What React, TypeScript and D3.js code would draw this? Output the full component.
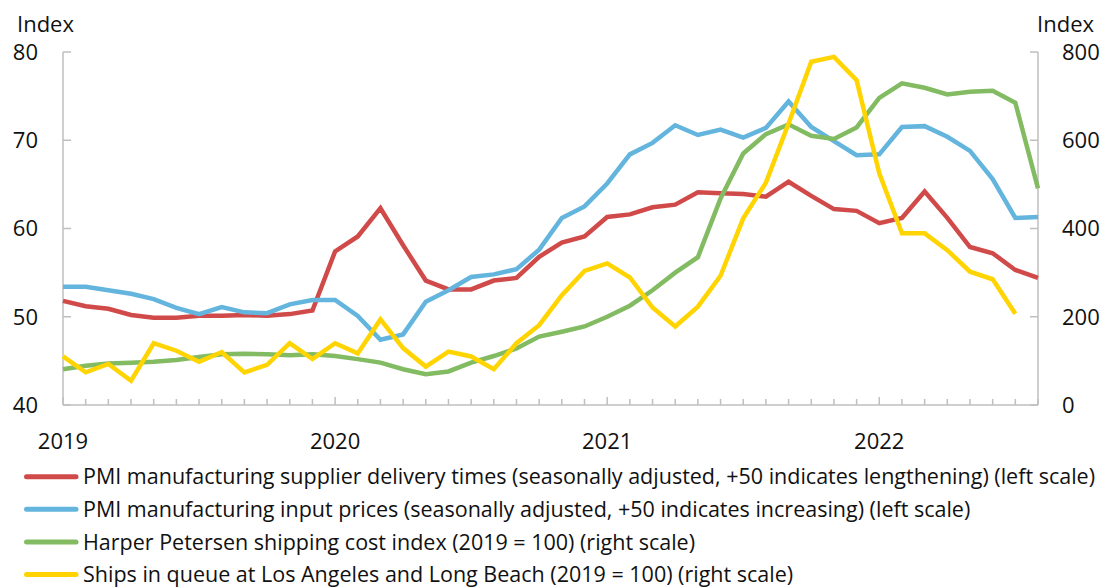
import React from "react";
import * as d3 from "d3";

const months: string[] = Array.from({ length: 44 }, (_, i) => `${2019 + Math.floor(i / 12)}-${String((i % 12) + 1).padStart(2, "0")}`);

const deliveryTimes: number[] = [51.8, 51.2, 50.9, 50.2, 49.9, 49.9, 50.1, 50.1, 50.2, 50.1, 50.3, 50.7,
  57.4, 59.1, 62.3, 58.1, 54.1, 53.1, 53.1, 54.1, 54.4, 56.8, 58.4, 59.1,
  61.3, 61.6, 62.4, 62.7, 64.1, 64.0, 63.9, 63.6, 65.3, 63.7, 62.2, 62.0,
  60.6, 61.2, 64.2, 61.2, 57.9, 57.2, 55.3, 54.4];

const inputPrices: number[] = [53.4, 53.4, 53.0, 52.6, 52.0, 51.0, 50.3, 51.1, 50.5, 50.4, 51.4, 51.9,
  51.9, 50.1, 47.4, 48.0, 51.7, 53.0, 54.5, 54.8, 55.4, 57.6, 61.2, 62.5,
  65.1, 68.4, 69.7, 71.7, 70.6, 71.2, 70.3, 71.4, 74.4, 71.5, 69.9, 68.3,
  68.4, 71.5, 71.6, 70.4, 68.8, 65.6, 61.2, 61.3];

const harperPetersen: number[] = [81, 89, 94, 96, 98, 102, 109, 115, 116, 115, 113, 115,
  111, 104, 96, 81, 70, 76, 96, 111, 128, 155, 166, 178,
  200, 225, 260, 300, 335, 468, 570, 614, 636, 610, 603, 629,
  696, 729, 719, 704, 710, 712, 685, 491];

const shipsInQueue: (number | null)[] = [110, 74, 93, 55, 140, 123, 98, 120, 74, 91, 140, 104,
  140, 117, 194, 129, 87, 121, 110, 81, 140, 181, 249, 304,
  321, 289, 221, 178, 223, 293, 423, 504, 638, 778, 789, 736,
  525, 389, 389, 351, 302, 285, 207, null];

const leftTicks: number[] = [40, 50, 60, 70, 80];
const rightTicks: number[] = [0, 200, 400, 600, 800];
const yearLabels: string[] = ["2019", "2020", "2021", "2022"];

const seriesNames: string[] = [
  "PMI manufacturing supplier delivery times (seasonally adjusted, +50 indicates lengthening) (left scale)",
  "PMI manufacturing input prices (seasonally adjusted, +50 indicates increasing) (left scale)",
  "Harper Petersen shipping cost index (2019 = 100) (right scale)",
  "Ships in queue at Los Angeles and Long Beach (2019 = 100) (right scale)",
];
const colors: string[] = ["#d14a4a", "#64b5de", "#82bb61", "#ffd400"];

const FONT = "'Open Sans', 'Noto Sans', sans-serif";

export default function App() {
  const W = 1106, H = 587;
  const x = d3.scaleLinear().domain([0, months.length - 1]).range([63, 1038]);
  const yL = d3.scaleLinear().domain([40, 80]).range([405, 52]);
  const yR = d3.scaleLinear().domain([0, 800]).range([405, 52]);
  const axisColor = "#bfbfbf";

  const lineL = d3.line<number>().x((_, i) => x(i)).y((d) => yL(d));
  const lineR = d3.line<number | null>().defined((d) => d != null).x((_, i) => x(i)).y((d) => yR(d as number));

  const paths = [
    lineL(deliveryTimes),
    lineL(inputPrices),
    lineR(harperPetersen),
    lineR(shipsInQueue),
  ];

  return (
    <svg width={W} height={H} style={{ position: "absolute", left: 0, top: 0, background: "#fff" }} fontFamily={FONT}>
      {/* axes */}
      <line x1={x(0)} x2={x(0)} y1={yL(80)} y2={yL(40)} stroke={axisColor} strokeWidth={1.5} />
      <line x1={x(43)} x2={x(43)} y1={yR(800)} y2={yR(0)} stroke={axisColor} strokeWidth={1.5} />
      <line x1={x(0)} x2={x(43)} y1={yL(40)} y2={yL(40)} stroke={axisColor} strokeWidth={1.5} />
      {leftTicks.map((t) => (
        <g key={"l" + t}>
          <line x1={x(0)} x2={x(0) + 8} y1={yL(t)} y2={yL(t)} stroke={axisColor} strokeWidth={1.5} />
          <text x={38} y={yL(t)} dy="0.36em" textAnchor="end" fontSize={22} fill="#111">{t}</text>
        </g>
      ))}
      {rightTicks.map((t) => (
        <g key={"r" + t}>
          <line x1={x(43) - 8} x2={x(43)} y1={yR(t)} y2={yR(t)} stroke={axisColor} strokeWidth={1.5} />
          <text x={1062} y={yR(t)} dy="0.36em" textAnchor="start" fontSize={22} fill="#111">{t}</text>
        </g>
      ))}
      {months.map((m, i) => (
        <line key={m} x1={x(i)} x2={x(i)} y1={yL(40)} y2={yL(40) - (i % 12 === 0 ? 8 : 6)} stroke={axisColor} strokeWidth={1.5} />
      ))}
      {yearLabels.map((yl, k) => (
        <text key={yl} x={x(k * 12)} y={449} textAnchor="middle" fontSize={22} fill="#111">{yl}</text>
      ))}
      <text x={17} y={31.5} fontSize={22} fill="#111">Index</text>
      <text x={1094} y={31.5} textAnchor="end" fontSize={22} fill="#111">Index</text>

      {/* series */}
      {paths.map((p, k) => (
        <path key={k} d={p || ""} fill="none" stroke={colors[k]} strokeWidth={4.5} strokeLinejoin="miter" strokeMiterlimit={3} />
      ))}

      {/* legend */}
      {seriesNames.map((n, k) => {
        const yy = 476.7 + k * 32.6;
        return (
          <g key={n}>
            <line x1={26.5} x2={76} y1={yy} y2={yy} stroke={colors[k]} strokeWidth={5} strokeLinecap="round" />
            <text x={83} y={yy} dy="0.36em" fontSize={21.5} fill="#111">{n}</text>
          </g>
        );
      })}
    </svg>
  );
}
